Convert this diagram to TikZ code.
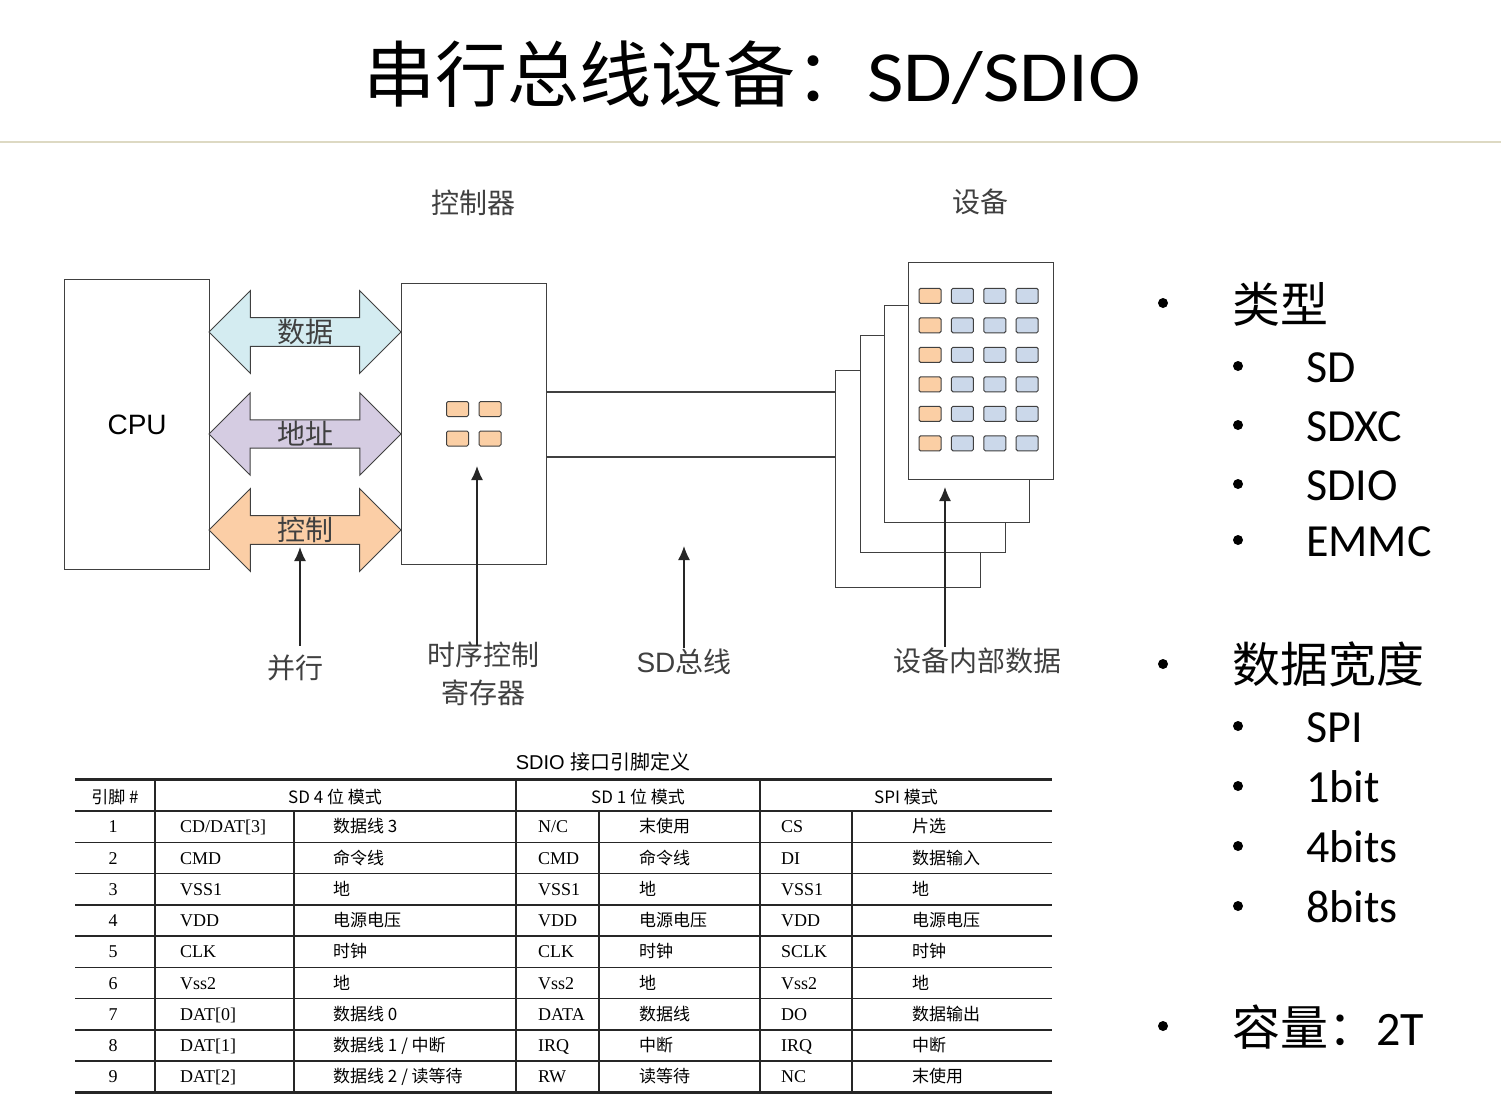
\documentclass[tikz,border=0pt]{standalone}
\usepackage{fontspec}
\usepackage{graphicx}
\setmainfont{Liberation Serif}
\newfontfamily\cjk{Noto Sans CJK SC}
\newfontfamily\cali{Carlito}
\newfontfamily\arial{Liberation Sans}
\usetikzlibrary{arrows.meta,shapes.arrows}
\definecolor{rulecol}{HTML}{DDD9C3}
\definecolor{ink}{HTML}{404040}
\definecolor{busdata}{HTML}{D4ECF1}
\definecolor{busaddr}{HTML}{D5CCE2}
\definecolor{busctrl}{HTML}{FBCEA6}
\definecolor{cellorange}{HTML}{FBCFA5}
\definecolor{cellblue}{HTML}{CBD8EA}
\newcommand{\fsz}[1]{\fontsize{#1}{#1}\selectfont}

% one row of the pin table: #1 = pin number, #2..#7 = cells
\newcommand{\pinrow}[7]{%
  \pgfmathsetmacro{\rowy}{811+31.25*(#1-0.5)+6.3}
  \node[pnum] (r#1c1) at (113,\rowy) {#1};
  \node[plat] (r#1c2) at (180,\rowy) {#2};
  \node[pcjk] (r#1c3) at (333,\rowy) {#3};
  \node[plat] (r#1c4) at (538,\rowy) {#4};
  \node[pcjk] (r#1c5) at (639,\rowy) {#5};
  \node[plat] (r#1c6) at (781,\rowy) {#6};
  \node[pcjk] (r#1c7) at (912,\rowy) {#7};
}

\begin{document}
\begin{tikzpicture}[x=1pt, y=-1pt,
    box/.style={draw=ink, line width=1.3pt, fill=white, inner sep=0pt, anchor=north west},
    sheet/.style={box, minimum width=145pt, minimum height=217pt},
    fat/.style={double arrow, draw=ink, line width=1pt, minimum height=192pt,
      double arrow head extend=27pt, double arrow tip angle=90,
      inner xsep=0pt, inner ysep=1pt, font=\cjk\fsz{28}, text=ink},
    chip/.style={draw=ink, line width=1pt, rounded corners=1.5pt,
      minimum width=22pt, minimum height=15pt, inner sep=0pt},
    lbl/.style={font=\cjk\fsz{28}, text=ink, inner sep=1pt},
    ptr/.style={draw=black!85, line width=1.3pt, -{Latex[length=14pt,width=12pt]}},
    wire/.style={draw=ink, line width=1.3pt},
    tline/.style={draw=black!85, line width=1.5pt},
    thick rule/.style={draw=black!85, line width=2.7pt},
    hd/.style={anchor=base, inner sep=0pt, font=\cjk\fsz{17}},
    pnum/.style={anchor=base, inner sep=0pt, font=\fsz{18}},
    plat/.style={anchor=base west, inner sep=0pt, font=\fsz{18}},
    pcjk/.style={anchor=base west, inner sep=0pt, font=\cjk\fsz{17}},
    bl1/.style={anchor=west, inner sep=0pt, font=\cjk\fsz{48}},
    bl2/.style={anchor=base west, inner sep=0pt, font=\cali\fsz{46}},
  ]
  \fill[white] (0,0) rectangle (1501,1109);
  \useasboundingbox (0,0) rectangle (1501,1109);

  % ---- title
  \node[inner sep=0pt] (title) at (752,74)
    {\cjk\fsz{72}串行总线设备：\cali\scalebox{1.1}[1]{SD/SDIO}};
  \draw[rulecol, line width=2pt] (0,142) -- (1501,142);

  % ---- CPU, controller and the parallel buses
  \node[box, minimum width=145pt, minimum height=290pt, font=\arial\fsz{28}]
    (cpu) at (64,279) {CPU};
  \node[box, minimum width=145pt, minimum height=281pt] (ctrl) at (401,283) {};
  \node[lbl] (lblctrl) at (473,203) {控制器};

  \node[fat, fill=busdata] (dbus) at (305,332) {数据};
  \node[fat, fill=busaddr] (abus) at (305,434) {地址};
  \node[fat, fill=busctrl] (cbus) at (305,530) {控制};

  \foreach \cx [count=\i] in {457.5,490}
    \foreach \cy [count=\j] in {409,438.5}
      \node[chip, fill=cellorange] (reg\i\j) at (\cx,\cy) {};

  % ---- device: stacked cards
  \node[sheet] (devD) at (835,370) {};
  \node[sheet] (devC) at (860,335) {};
  \node[sheet] (devB) at (884,305) {};
  \node[sheet] (devA) at (908,262) {};
  \node[lbl] (lbldev) at (980,202) {设备};
  \foreach \j in {0,...,5} {
    \node[chip, fill=cellorange] (cell0\j) at (930,{295.8+29.5*\j}) {};
    \foreach \i in {1,2,3}
      \node[chip, fill=cellblue] (cell\i\j) at ({930+32.4*\i},{295.8+29.5*\j}) {};
  }

  % ---- SD bus
  \draw[wire] (ctrl.east |- 0,392) -- (devD.west |- 0,392);
  \draw[wire] (ctrl.east |- 0,457) -- (devD.west |- 0,457);

  % ---- bottom labels and pointers
  \node[lbl, inner ysep=9pt] (lblpar) at (295,668) {并行};
  \node[lbl, align=center] (lblreg) at (483,674) {时序控制\\[10pt]寄存器};
  \node[lbl] (lblbus) at (684,662) {{\arial SD}总线};
  \node[lbl] (lbldat) at (977,661) {设备内部数据};
  \coordinate (tippar) at (300,547);
  \coordinate (tipreg) at (477,466);
  \coordinate (tipbus) at (684,546);
  \coordinate (tipdev) at (945,487);
  \draw[ptr] (lblpar.north -| tippar) -- (tippar);
  \draw[ptr] ([yshift=-5pt]lblreg.north -| tipreg) -- (tipreg);
  \draw[ptr] (lblbus.north -| tipbus) -- (tipbus);
  \draw[ptr] (lbldat.north -| tipdev) -- (tipdev);

  % ---- pin table
  \node[font=\arial\fsz{20}] (tabcap) at (603,762) {SDIO {\cjk 接口引脚定义}};
  \draw[thick rule] (75,779.5) -- (1052,779.5);
  \draw[thick rule] (75,1092.5) -- (1052,1092.5);
  \foreach \k in {0,...,8}
    \draw[tline] (75,{811+31.25*\k}) -- (1052,{811+31.25*\k});
  \foreach \vx in {155,516,760}
    \draw[tline] (\vx,779.5) -- (\vx,1092.5);
  \foreach \vx in {294,599,852}
    \draw[tline] (\vx,811) -- (\vx,1092.5);

  \node[hd] (h1) at (115,803) {引脚 \#};
  \node[hd] (h2) at (335,803) {SD 4 位 模式};
  \node[hd] (h3) at (638,803) {SD 1 位 模式};
  \node[hd] (h4) at (906,803) {SPI 模式};

  \pinrow{1}{CD/DAT[3]}{数据线 3}{N/C}{末使用}{CS}{片选}
  \pinrow{2}{CMD}{命令线}{CMD}{命令线}{DI}{数据输入}
  \pinrow{3}{VSS1}{地}{VSS1}{地}{VSS1}{地}
  \pinrow{4}{VDD}{电源电压}{VDD}{电源电压}{VDD}{电源电压}
  \pinrow{5}{CLK}{时钟}{CLK}{时钟}{SCLK}{时钟}
  \pinrow{6}{Vss2}{地}{Vss2}{地}{Vss2}{地}
  \pinrow{7}{DAT[0]}{数据线 0}{DATA}{数据线}{DO}{数据输出}
  \pinrow{8}{DAT[1]}{数据线 1 / 中断}{IRQ}{中断}{IRQ}{中断}
  \pinrow{9}{DAT[2]}{数据线 2 / 读等待}{RW}{读等待}{NC}{末使用}

  % ---- bullet list
  \foreach \by in {303,664,1026}
    \fill (1163,\by) circle (5pt);
  \foreach \by in {366,425,484,540,726,786,846,906}
    \fill (1238,\by) circle (5pt);
  \node[bl1] (tType) at (1232,304) {类型};
  \node[bl2] (tSD) at (1306,382) {SD};
  \node[bl2] (tSDXC) at (1306,441) {SDXC};
  \node[bl2] (tSDIO) at (1306,500) {SDIO};
  \node[bl2] (tEMMC) at (1306,556) {EMMC};
  \node[bl1] (tWidth) at (1232,664) {数据宽度};
  \node[bl2] (tSPI) at (1306,742) {SPI};
  \node[bl2] (t1bit) at (1306,802) {1bit};
  \node[bl2] (t4bits) at (1306,862) {4bits};
  \node[bl2] (t8bits) at (1306,922) {8bits};
  \node[bl1] (tCap) at (1232,1027) {容量：{\cali 2T}};
\end{tikzpicture}
\end{document}
